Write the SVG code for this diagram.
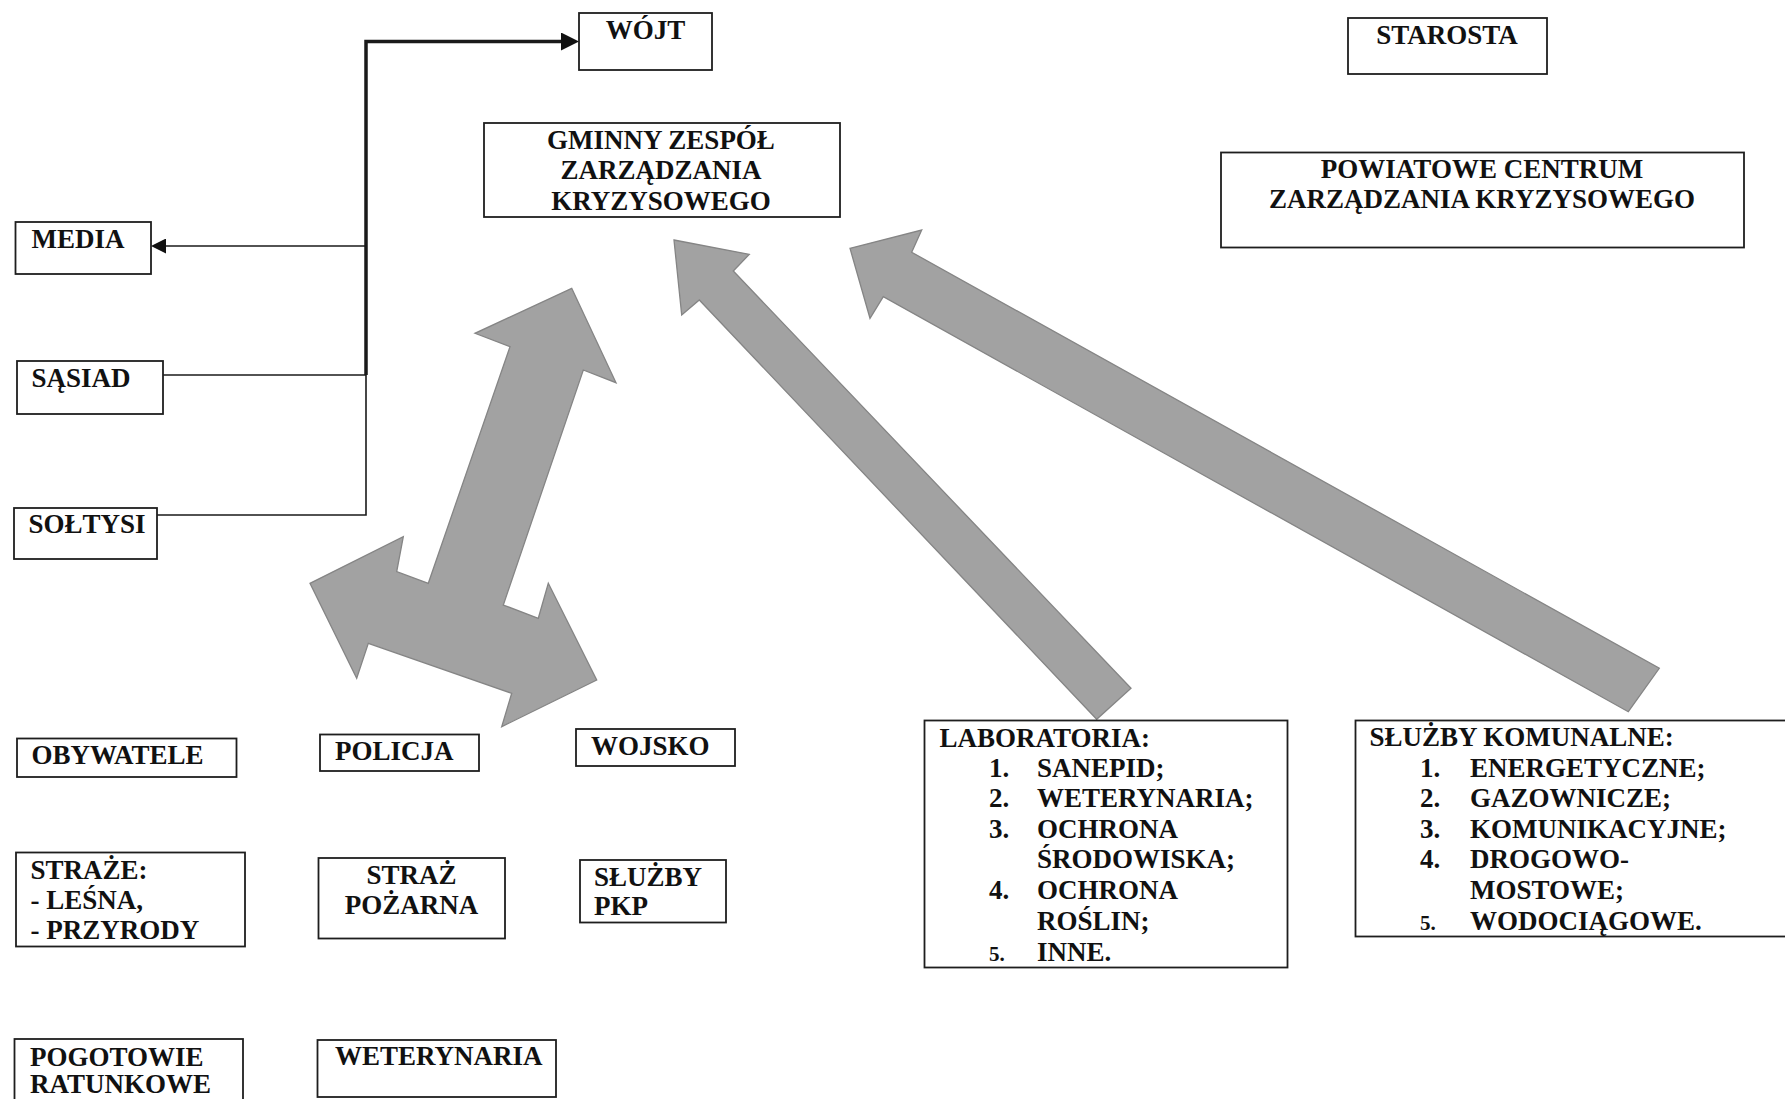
<svg xmlns="http://www.w3.org/2000/svg" width="1785" height="1099" viewBox="0 0 1785 1099">
<style>
.box{fill:#ffffff;stroke:#1e1e1e;stroke-width:1.8}
.t{font-family:"Liberation Serif","Times New Roman",serif;font-weight:bold;font-size:27px;fill:#111}
.c{text-anchor:middle}
.s{font-size:21px}
.big{fill:#a2a2a2;stroke:#858585;stroke-width:1.3;stroke-linejoin:miter}
.ln{fill:none;stroke:#1a1a1a}
</style>
<defs>
<marker id="ah" markerUnits="userSpaceOnUse" markerWidth="18" markerHeight="18" refX="9" refY="9" orient="auto">
<path d="M0,0 L18,9 L0,18 z" fill="#111"/>
</marker>
<marker id="ah2" markerUnits="userSpaceOnUse" markerWidth="15" markerHeight="15" refX="7" refY="7.5" orient="auto">
<path d="M0,0 L15,7.5 L0,15 z" fill="#111"/>
</marker>
</defs>
<rect width="1785" height="1099" fill="#ffffff"/>

<g id="big-arrows">
<polygon id="arrow-triple" class="big" points="571.7,288.3 616,382.7 583.3,370 503.3,605 538.3,618.3 548.3,583.3 596.7,680 501.7,726.7 511.7,693.3 368.3,643.3 356.7,678.3 310,583.3 403.3,536.7 396.7,571.7 428.3,583.3 510,346.7 475,333.3"/>
<polygon id="arrow-lab" class="big" points="674,240 749.3,254.3 733.3,271 1131,688.3 1096.7,719.3 699.3,300 681.7,315"/>
<polygon id="arrow-kom" class="big" points="850,248.3 921.7,230 911.7,252.3 1659.3,668.3 1628.3,711.7 883.3,296.7 870,318.3"/>
</g>

<g id="connectors">
<path class="ln" d="M366,375 V41.5 H570" stroke-width="3.5" marker-end="url(#ah)"/>
<path class="ln" d="M163,375 H366" stroke-width="1.6"/>
<path class="ln" d="M157,515 H366 V375" stroke-width="1.6"/>
<path class="ln" d="M366,246 H159" stroke-width="1.6" marker-end="url(#ah2)"/>
</g>

<g id="wojt"><rect class="box" x="579" y="13" width="133" height="57"/><text class="t c" x="645.5" y="39">WÓJT</text></g>

<g id="gminny"><rect class="box" x="484" y="123" width="356" height="94"/>
<text class="t c" x="661" y="149">GMINNY ZESPÓŁ</text>
<text class="t c" x="661" y="179">ZARZĄDZANIA</text>
<text class="t c" x="661" y="210">KRYZYSOWEGO</text></g>

<g id="starosta"><rect class="box" x="1348" y="18" width="199" height="56"/><text class="t c" x="1447" y="43.5">STAROSTA</text></g>

<g id="powiatowe"><rect class="box" x="1221" y="152.5" width="523" height="95"/>
<text class="t c" x="1482" y="177.5">POWIATOWE CENTRUM</text>
<text class="t c" x="1482" y="208">ZARZĄDZANIA KRYZYSOWEGO</text></g>

<g id="media"><rect class="box" x="15.5" y="222" width="135.5" height="52"/><text class="t" x="31.5" y="248">MEDIA</text></g>
<g id="sasiad"><rect class="box" x="17" y="361" width="146" height="53"/><text class="t" x="31.5" y="387">SĄSIAD</text></g>
<g id="soltysi"><rect class="box" x="14" y="508" width="143" height="51"/><text class="t" x="28.5" y="533">SOŁTYSI</text></g>

<g id="obywatele"><rect class="box" x="17" y="738.5" width="219.5" height="38.5"/><text class="t" x="31.5" y="764">OBYWATELE</text></g>
<g id="policja"><rect class="box" x="320" y="734.5" width="159" height="36.5"/><text class="t" x="335" y="760">POLICJA</text></g>
<g id="wojsko"><rect class="box" x="576" y="729" width="159" height="37"/><text class="t" x="591" y="754.5">WOJSKO</text></g>

<g id="straze"><rect class="box" x="16" y="852.5" width="229" height="94"/>
<text class="t" x="30.5" y="879">STRAŻE:</text>
<text class="t" x="30.5" y="909">- LEŚNA,</text>
<text class="t" x="30.5" y="939">- PRZYRODY</text></g>

<g id="straz-pozarna"><rect class="box" x="318.5" y="858" width="186.5" height="80.5"/>
<text class="t c" x="411.5" y="884">STRAŻ</text>
<text class="t c" x="411.5" y="914">POŻARNA</text></g>

<g id="sluzby-pkp"><rect class="box" x="580" y="860" width="146" height="62.5"/>
<text class="t" x="594" y="886">SŁUŻBY</text>
<text class="t" x="594" y="915">PKP</text></g>

<g id="pogotowie"><rect class="box" x="14.5" y="1039" width="228.5" height="70"/>
<text class="t" x="30" y="1066">POGOTOWIE</text>
<text class="t" x="30" y="1093">RATUNKOWE</text></g>

<g id="weterynaria"><rect class="box" x="317.5" y="1040" width="238.5" height="57"/><text class="t" x="335" y="1065">WETERYNARIA</text></g>

<g id="laboratoria"><rect class="box" x="924.5" y="720.5" width="363" height="247"/>
<text class="t" x="939.5" y="747">LABORATORIA:</text>
<text class="t" x="989" y="777">1.</text><text class="t" x="1037" y="777">SANEPID;</text>
<text class="t" x="989" y="807">2.</text><text class="t" x="1037" y="807">WETERYNARIA;</text>
<text class="t" x="989" y="838">3.</text><text class="t" x="1037" y="838">OCHRONA</text>
<text class="t" x="1037" y="868">ŚRODOWISKA;</text>
<text class="t" x="989" y="899">4.</text><text class="t" x="1037" y="899">OCHRONA</text>
<text class="t" x="1037" y="930">ROŚLIN;</text>
<text class="t s" x="989" y="961">5.</text><text class="t" x="1037" y="961">INNE.</text></g>

<g id="komunalne"><rect class="box" x="1355.5" y="720.5" width="440" height="216"/>
<text class="t" x="1369.5" y="746">SŁUŻBY KOMUNALNE:</text>
<text class="t" x="1420" y="777">1.</text><text class="t" x="1470" y="777">ENERGETYCZNE;</text>
<text class="t" x="1420" y="807">2.</text><text class="t" x="1470" y="807">GAZOWNICZE;</text>
<text class="t" x="1420" y="838">3.</text><text class="t" x="1470" y="838">KOMUNIKACYJNE;</text>
<text class="t" x="1420" y="868">4.</text><text class="t" x="1470" y="868">DROGOWO-</text>
<text class="t" x="1470" y="899">MOSTOWE;</text>
<text class="t s" x="1420" y="930">5.</text><text class="t" x="1470" y="930">WODOCIĄGOWE.</text></g>
</svg>
